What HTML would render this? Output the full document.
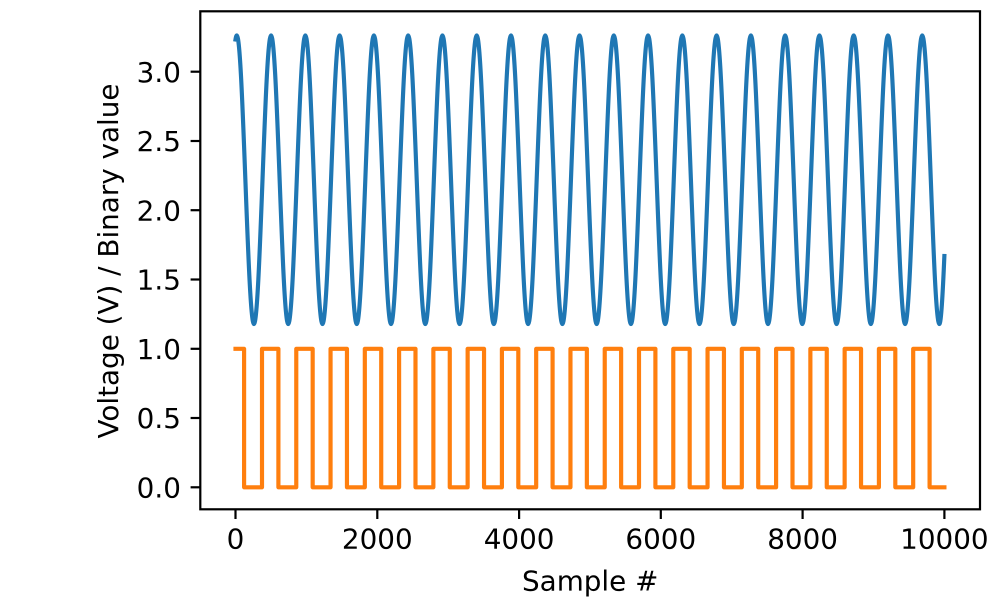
<!DOCTYPE html>
<html>
<head>
<meta charset="utf-8">
<style>
html,body{margin:0;padding:0;background:#fff;}
svg{display:block;}
text{font-family:"DejaVu Sans","Liberation Sans",sans-serif;font-size:27.8px;fill:#000;}
</style>
</head>
<body>
<svg width="1000" height="600" viewBox="0 0 1000 600" xmlns="http://www.w3.org/2000/svg">
<rect x="0" y="0" width="1000" height="600" fill="#ffffff"/>

<!-- sine (blue) -->
<path fill="none" stroke="#1f77b4" stroke-width="4.17" stroke-linejoin="round" stroke-linecap="square"
d="M235.5,39.5 C235.93,36.8 236.37,35.4 236.8,35.4
c3.101,0 5.774,70.38 8.568,144.3 c2.794,73.92 5.467,144.3 8.568,144.3 c3.101,0 5.774,-70.38 8.568,-144.3 c2.794,-73.92 5.467,-144.3 8.568,-144.3
c3.101,0 5.774,70.38 8.568,144.3 c2.794,73.92 5.467,144.3 8.568,144.3 c3.101,0 5.774,-70.38 8.568,-144.3 c2.794,-73.92 5.467,-144.3 8.568,-144.3
c3.101,0 5.774,70.38 8.568,144.3 c2.794,73.92 5.467,144.3 8.568,144.3 c3.101,0 5.774,-70.38 8.568,-144.3 c2.794,-73.92 5.467,-144.3 8.568,-144.3
c3.101,0 5.774,70.38 8.568,144.3 c2.794,73.92 5.467,144.3 8.568,144.3 c3.101,0 5.774,-70.38 8.568,-144.3 c2.794,-73.92 5.467,-144.3 8.568,-144.3
c3.101,0 5.774,70.38 8.568,144.3 c2.794,73.92 5.467,144.3 8.568,144.3 c3.101,0 5.774,-70.38 8.568,-144.3 c2.794,-73.92 5.467,-144.3 8.568,-144.3
c3.101,0 5.774,70.38 8.568,144.3 c2.794,73.92 5.467,144.3 8.568,144.3 c3.101,0 5.774,-70.38 8.568,-144.3 c2.794,-73.92 5.467,-144.3 8.568,-144.3
c3.101,0 5.774,70.38 8.568,144.3 c2.794,73.92 5.467,144.3 8.568,144.3 c3.101,0 5.774,-70.38 8.568,-144.3 c2.794,-73.92 5.467,-144.3 8.568,-144.3
c3.101,0 5.774,70.38 8.568,144.3 c2.794,73.92 5.467,144.3 8.568,144.3 c3.101,0 5.774,-70.38 8.568,-144.3 c2.794,-73.92 5.467,-144.3 8.568,-144.3
c3.101,0 5.774,70.38 8.568,144.3 c2.794,73.92 5.467,144.3 8.568,144.3 c3.101,0 5.774,-70.38 8.568,-144.3 c2.794,-73.92 5.467,-144.3 8.568,-144.3
c3.101,0 5.774,70.38 8.568,144.3 c2.794,73.92 5.467,144.3 8.568,144.3 c3.101,0 5.774,-70.38 8.568,-144.3 c2.794,-73.92 5.467,-144.3 8.568,-144.3
c3.101,0 5.774,70.38 8.568,144.3 c2.794,73.92 5.467,144.3 8.568,144.3 c3.101,0 5.774,-70.38 8.568,-144.3 c2.794,-73.92 5.467,-144.3 8.568,-144.3
c3.101,0 5.774,70.38 8.568,144.3 c2.794,73.92 5.467,144.3 8.568,144.3 c3.101,0 5.774,-70.38 8.568,-144.3 c2.794,-73.92 5.467,-144.3 8.568,-144.3
c3.101,0 5.774,70.38 8.568,144.3 c2.794,73.92 5.467,144.3 8.568,144.3 c3.101,0 5.774,-70.38 8.568,-144.3 c2.794,-73.92 5.467,-144.3 8.568,-144.3
c3.101,0 5.774,70.38 8.568,144.3 c2.794,73.92 5.467,144.3 8.568,144.3 c3.101,0 5.774,-70.38 8.568,-144.3 c2.794,-73.92 5.467,-144.3 8.568,-144.3
c3.101,0 5.774,70.38 8.568,144.3 c2.794,73.92 5.467,144.3 8.568,144.3 c3.101,0 5.774,-70.38 8.568,-144.3 c2.794,-73.92 5.467,-144.3 8.568,-144.3
c3.101,0 5.774,70.38 8.568,144.3 c2.794,73.92 5.467,144.3 8.568,144.3 c3.101,0 5.774,-70.38 8.568,-144.3 c2.794,-73.92 5.467,-144.3 8.568,-144.3
c3.101,0 5.774,70.38 8.568,144.3 c2.794,73.92 5.467,144.3 8.568,144.3 c3.101,0 5.774,-70.38 8.568,-144.3 c2.794,-73.92 5.467,-144.3 8.568,-144.3
c3.101,0 5.774,70.38 8.568,144.3 c2.794,73.92 5.467,144.3 8.568,144.3 c3.101,0 5.774,-70.38 8.568,-144.3 c2.794,-73.92 5.467,-144.3 8.568,-144.3
c3.101,0 5.774,70.38 8.568,144.3 c2.794,73.92 5.467,144.3 8.568,144.3 c3.101,0 5.774,-70.38 8.568,-144.3 c2.794,-73.92 5.467,-144.3 8.568,-144.3
c3.101,0 5.774,70.38 8.568,144.3 c2.794,73.92 5.467,144.3 8.568,144.3 c3.101,0 5.774,-70.38 8.568,-144.3 c2.794,-73.92 5.467,-144.3 8.568,-144.3
c3.101,0 5.774,70.38 8.568,144.3 c2.794,73.92 5.467,144.3 8.568,144.3
c1.67,0 3.33,-29.1 5.0,-68"/>

<!-- square (orange) -->
<path fill="none" stroke="#ff7f0e" stroke-width="4.17" stroke-linejoin="round" stroke-linecap="square"
d="M235.5,348.8 H244.1 V487.3 H262 V348.8 H278.4 V487.3 H296.27 V348.8 H312.67 V487.3 H330.55 V348.8 H346.95 V487.3 H364.82 V348.8 H381.22 V487.3 H399.09 V348.8 H415.49 V487.3 H433.37 V348.8 H449.77 V487.3 H467.64 V348.8 H484.04 V487.3 H501.91 V348.8 H518.31 V487.3 H536.18 V348.8 H552.58 V487.3 H570.46 V348.8 H586.86 V487.3 H604.73 V348.8 H621.13 V487.3 H639 V348.8 H655.4 V487.3 H673.28 V348.8 H689.68 V487.3 H707.55 V348.8 H723.95 V487.3 H741.82 V348.8 H758.22 V487.3 H776.1 V348.8 H792.5 V487.3 H810.37 V348.8 H826.77 V487.3 H844.64 V348.8 H861.04 V487.3 H878.91 V348.8 H895.31 V487.3 H913.19 V348.8 H929.59 V487.3 H944.4"/>

<!-- axes frame -->
<rect x="200.3" y="11.3" width="779.7" height="498" fill="none" stroke="#000" stroke-width="2.2" stroke-linejoin="miter"/>

<!-- y ticks -->
<g stroke="#000" stroke-width="2.2">
<line x1="190.6" y1="487.3" x2="200.3" y2="487.3"/>
<line x1="190.6" y1="418.0" x2="200.3" y2="418.0"/>
<line x1="190.6" y1="348.8" x2="200.3" y2="348.8"/>
<line x1="190.6" y1="279.5" x2="200.3" y2="279.5"/>
<line x1="190.6" y1="210.2" x2="200.3" y2="210.2"/>
<line x1="190.6" y1="141.0" x2="200.3" y2="141.0"/>
<line x1="190.6" y1="71.7" x2="200.3" y2="71.7"/>
</g>
<g text-anchor="end">
<text x="180.9" y="497.4">0.0</text>
<text x="180.9" y="428.1">0.5</text>
<text x="180.9" y="358.9">1.0</text>
<text x="180.9" y="289.6">1.5</text>
<text x="180.9" y="220.3">2.0</text>
<text x="180.9" y="151.1">2.5</text>
<text x="180.9" y="81.8">3.0</text>
</g>

<!-- x ticks -->
<g stroke="#000" stroke-width="2.2">
<line x1="235.5" y1="509.3" x2="235.5" y2="519"/>
<line x1="377.3" y1="509.3" x2="377.3" y2="519"/>
<line x1="519.1" y1="509.3" x2="519.1" y2="519"/>
<line x1="660.8" y1="509.3" x2="660.8" y2="519"/>
<line x1="802.6" y1="509.3" x2="802.6" y2="519"/>
<line x1="944.4" y1="509.3" x2="944.4" y2="519"/>
</g>
<g text-anchor="middle">
<text x="235.5" y="548.7">0</text>
<text x="377.3" y="548.7">2000</text>
<text x="519.1" y="548.7">4000</text>
<text x="660.8" y="548.7">6000</text>
<text x="802.6" y="548.7">8000</text>
<text x="944.4" y="548.7">10000</text>
</g>

<!-- axis labels -->
<text x="590.2" y="590.3" text-anchor="middle">Sample #</text>
<text transform="translate(118,261) rotate(-90)" x="0" y="0" text-anchor="middle">Voltage (V) / Binary value</text>
</svg>
</body>
</html>
